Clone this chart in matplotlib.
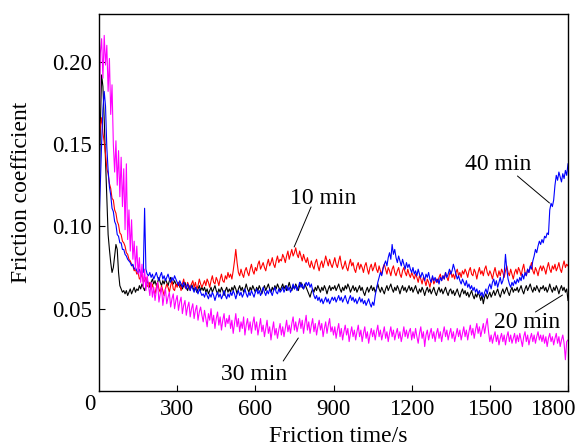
import numpy as np
import matplotlib
matplotlib.use("Agg")
import matplotlib.pyplot as plt
import matplotlib.transforms as mtransforms

# ---------------- data (5 s steps) ----------------
time_s = np.arange(0, 1801, 5)

mu_10min = [
    0.150, 0.161, 0.166, 0.157, 0.151, 0.144, 0.135, 0.132, 0.126, 0.123, 0.117, 0.116, 0.110, 0.108, 0.103, 0.101, 0.096, 0.095, 0.091, 0.090,
    0.088, 0.084, 0.083, 0.080, 0.079, 0.077, 0.076, 0.073, 0.074, 0.071, 0.072, 0.068, 0.069, 0.071, 0.066, 0.067, 0.069, 0.064, 0.063, 0.066,
    0.062, 0.065, 0.061, 0.059, 0.063, 0.066, 0.062, 0.060, 0.064, 0.061, 0.058, 0.062, 0.065, 0.063, 0.060, 0.064, 0.067, 0.062, 0.061, 0.065,
    0.063, 0.066, 0.064, 0.061, 0.065, 0.068, 0.063, 0.062, 0.066, 0.064, 0.061, 0.065, 0.067, 0.063, 0.066, 0.062, 0.064, 0.068, 0.065, 0.063,
    0.065, 0.067, 0.064, 0.068, 0.066, 0.063, 0.067, 0.070, 0.066, 0.065, 0.069, 0.067, 0.064, 0.068, 0.071, 0.067, 0.066, 0.070, 0.068, 0.072,
    0.069, 0.071, 0.068, 0.073, 0.079, 0.086, 0.078, 0.072, 0.070, 0.074, 0.071, 0.069, 0.073, 0.075, 0.072, 0.070, 0.074, 0.077, 0.073, 0.071,
    0.075, 0.073, 0.077, 0.079, 0.074, 0.076, 0.078, 0.075, 0.073, 0.077, 0.080, 0.076, 0.078, 0.081, 0.077, 0.075, 0.079, 0.082, 0.078, 0.080,
    0.079, 0.083, 0.081, 0.078, 0.082, 0.085, 0.080, 0.083, 0.086, 0.082, 0.084, 0.087, 0.083, 0.081, 0.085, 0.082, 0.079, 0.083, 0.080, 0.078,
    0.081, 0.077, 0.075, 0.079, 0.076, 0.074, 0.078, 0.080, 0.076, 0.073, 0.077, 0.079, 0.075, 0.078, 0.082, 0.079, 0.076, 0.080, 0.077, 0.075,
    0.078, 0.081, 0.077, 0.075, 0.079, 0.082, 0.077, 0.074, 0.076, 0.079, 0.075, 0.073, 0.077, 0.080, 0.076, 0.078, 0.074, 0.072, 0.076, 0.078,
    0.074, 0.077, 0.075, 0.072, 0.076, 0.078, 0.074, 0.071, 0.075, 0.077, 0.073, 0.075, 0.078, 0.074, 0.072, 0.076, 0.073, 0.071, 0.075, 0.077,
    0.074, 0.071, 0.075, 0.073, 0.070, 0.074, 0.076, 0.072, 0.070, 0.073, 0.075, 0.071, 0.069, 0.073, 0.075, 0.072, 0.070, 0.074, 0.071, 0.069,
    0.072, 0.070, 0.068, 0.071, 0.069, 0.066, 0.070, 0.068, 0.065, 0.069, 0.067, 0.064, 0.068, 0.066, 0.063, 0.067, 0.069, 0.065, 0.067, 0.068,
    0.066, 0.069, 0.071, 0.067, 0.070, 0.068, 0.072, 0.069, 0.067, 0.071, 0.073, 0.069, 0.071, 0.068, 0.072, 0.074, 0.070, 0.072, 0.069, 0.073,
    0.071, 0.074, 0.072, 0.069, 0.073, 0.075, 0.071, 0.070, 0.074, 0.072, 0.068, 0.072, 0.075, 0.071, 0.073, 0.070, 0.074, 0.076, 0.072, 0.070,
    0.073, 0.071, 0.068, 0.072, 0.075, 0.071, 0.069, 0.073, 0.070, 0.074, 0.072, 0.069, 0.073, 0.076, 0.072, 0.070, 0.074, 0.071, 0.068, 0.072,
    0.074, 0.071, 0.075, 0.073, 0.070, 0.074, 0.077, 0.072, 0.070, 0.074, 0.072, 0.075, 0.078, 0.073, 0.071, 0.075, 0.073, 0.070, 0.074, 0.076,
    0.073, 0.076, 0.074, 0.071, 0.075, 0.078, 0.074, 0.072, 0.076, 0.074, 0.077, 0.073, 0.075, 0.078, 0.074, 0.072, 0.076, 0.079, 0.075, 0.077,
    0.076,
]

mu_20min = [
    0.110, 0.160, 0.192, 0.185, 0.165, 0.140, 0.118, 0.095, 0.086, 0.078, 0.072, 0.075, 0.082, 0.089, 0.086, 0.072, 0.064, 0.062, 0.060, 0.061,
    0.059, 0.061, 0.058, 0.060, 0.062, 0.059, 0.061, 0.063, 0.060, 0.062, 0.061, 0.064, 0.062, 0.065, 0.063, 0.061, 0.064, 0.067, 0.065, 0.063,
    0.066, 0.068, 0.065, 0.067, 0.064, 0.066, 0.069, 0.066, 0.064, 0.067, 0.065, 0.068, 0.066, 0.064, 0.067, 0.069, 0.066, 0.065, 0.067, 0.065,
    0.064, 0.066, 0.063, 0.065, 0.062, 0.064, 0.066, 0.063, 0.061, 0.064, 0.062, 0.065, 0.063, 0.061, 0.063, 0.060, 0.062, 0.064, 0.061, 0.063,
    0.061, 0.063, 0.060, 0.062, 0.059, 0.061, 0.063, 0.060, 0.062, 0.064, 0.061, 0.059, 0.062, 0.060, 0.063, 0.061, 0.058, 0.061, 0.063, 0.060,
    0.062, 0.060, 0.063, 0.061, 0.064, 0.062, 0.059, 0.062, 0.064, 0.061, 0.063, 0.060, 0.062, 0.065, 0.062, 0.060, 0.063, 0.061, 0.064, 0.062,
    0.060, 0.063, 0.061, 0.064, 0.062, 0.059, 0.062, 0.064, 0.061, 0.063, 0.065, 0.062, 0.060, 0.063, 0.061, 0.064, 0.062, 0.065, 0.063, 0.061,
    0.063, 0.065, 0.062, 0.064, 0.061, 0.063, 0.066, 0.063, 0.061, 0.064, 0.062, 0.065, 0.063, 0.061, 0.064, 0.066, 0.063, 0.062, 0.065, 0.063,
    0.061, 0.059, 0.057, 0.060, 0.062, 0.060, 0.063, 0.061, 0.064, 0.062, 0.060, 0.063, 0.061, 0.064, 0.062, 0.059, 0.062, 0.064, 0.061, 0.063,
    0.062, 0.064, 0.061, 0.063, 0.065, 0.062, 0.060, 0.063, 0.061, 0.064, 0.062, 0.065, 0.063, 0.060, 0.062, 0.064, 0.061, 0.063, 0.060, 0.062,
    0.064, 0.061, 0.063, 0.060, 0.058, 0.061, 0.063, 0.060, 0.062, 0.064, 0.061, 0.063, 0.060, 0.062, 0.065, 0.062, 0.060, 0.063, 0.061, 0.059,
    0.062, 0.064, 0.061, 0.063, 0.065, 0.062, 0.060, 0.063, 0.061, 0.064, 0.062, 0.059, 0.062, 0.064, 0.061, 0.063, 0.060, 0.062, 0.064, 0.061,
    0.063, 0.060, 0.062, 0.064, 0.061, 0.059, 0.062, 0.060, 0.063, 0.061, 0.058, 0.061, 0.063, 0.060, 0.062, 0.059, 0.061, 0.063, 0.060, 0.058,
    0.061, 0.063, 0.060, 0.062, 0.059, 0.061, 0.063, 0.060, 0.058, 0.061, 0.062, 0.059, 0.061, 0.058, 0.060, 0.062, 0.059, 0.057, 0.060, 0.062,
    0.059, 0.061, 0.058, 0.060, 0.057, 0.059, 0.061, 0.058, 0.056, 0.059, 0.057, 0.060, 0.058, 0.055, 0.058, 0.053, 0.057, 0.059, 0.056, 0.058,
    0.060, 0.057, 0.059, 0.061, 0.058, 0.060, 0.062, 0.059, 0.057, 0.060, 0.062, 0.059, 0.061, 0.063, 0.060, 0.058, 0.061, 0.063, 0.060, 0.062,
    0.061, 0.063, 0.060, 0.062, 0.064, 0.061, 0.059, 0.062, 0.064, 0.061, 0.063, 0.065, 0.062, 0.060, 0.063, 0.061, 0.064, 0.062, 0.060, 0.063,
    0.062, 0.064, 0.061, 0.063, 0.060, 0.062, 0.065, 0.062, 0.060, 0.063, 0.061, 0.064, 0.062, 0.059, 0.062, 0.064, 0.061, 0.063, 0.060, 0.062,
    0.055,
]

mu_30min = [
    0.150, 0.205, 0.214, 0.190, 0.216, 0.198, 0.210, 0.182, 0.202, 0.168, 0.186, 0.150, 0.133, 0.152, 0.125, 0.146, 0.118, 0.142, 0.112, 0.135,
    0.098, 0.138, 0.092, 0.110, 0.085, 0.104, 0.080, 0.091, 0.074, 0.088, 0.071, 0.081, 0.066, 0.077, 0.063, 0.074, 0.061, 0.070, 0.064, 0.058,
    0.066, 0.057, 0.063, 0.055, 0.061, 0.066, 0.054, 0.059, 0.063, 0.052, 0.058, 0.062, 0.053, 0.057, 0.060, 0.051, 0.056, 0.059, 0.050, 0.055,
    0.058, 0.049, 0.054, 0.057, 0.047, 0.052, 0.055, 0.046, 0.051, 0.054, 0.045, 0.050, 0.053, 0.044, 0.049, 0.052, 0.043, 0.048, 0.051, 0.046,
    0.042, 0.049, 0.044, 0.039, 0.047, 0.043, 0.050, 0.041, 0.046, 0.038, 0.044, 0.048, 0.040, 0.045, 0.037, 0.043, 0.047, 0.039, 0.044, 0.041,
    0.046, 0.038, 0.043, 0.035, 0.041, 0.047, 0.039, 0.044, 0.036, 0.042, 0.038, 0.045, 0.034, 0.040, 0.044, 0.037, 0.042, 0.035, 0.041, 0.045,
    0.037, 0.042, 0.034, 0.039, 0.044, 0.036, 0.040, 0.033, 0.038, 0.043, 0.035, 0.039, 0.031, 0.037, 0.042, 0.034, 0.038, 0.032, 0.037, 0.041,
    0.034, 0.039, 0.033, 0.038, 0.043, 0.036, 0.040, 0.035, 0.041, 0.045, 0.037, 0.042, 0.036, 0.040, 0.044, 0.038, 0.043, 0.035, 0.041, 0.046,
    0.037, 0.042, 0.035, 0.040, 0.044, 0.036, 0.041, 0.034, 0.039, 0.043, 0.037, 0.041, 0.033, 0.038, 0.042, 0.035, 0.040, 0.044, 0.036, 0.039,
    0.034, 0.039, 0.032, 0.037, 0.041, 0.033, 0.038, 0.031, 0.036, 0.040, 0.034, 0.038, 0.030, 0.035, 0.039, 0.033, 0.037, 0.031, 0.036, 0.040,
    0.033, 0.037, 0.030, 0.035, 0.039, 0.032, 0.036, 0.029, 0.034, 0.038, 0.033, 0.037, 0.031, 0.036, 0.040, 0.033, 0.037, 0.031, 0.035, 0.039,
    0.032, 0.036, 0.030, 0.035, 0.039, 0.033, 0.037, 0.031, 0.035, 0.038, 0.032, 0.036, 0.030, 0.034, 0.039, 0.033, 0.037, 0.032, 0.036, 0.038,
    0.031, 0.036, 0.032, 0.038, 0.033, 0.029, 0.035, 0.039, 0.032, 0.036, 0.027, 0.034, 0.037, 0.031, 0.035, 0.038, 0.032, 0.036, 0.030, 0.035,
    0.038, 0.032, 0.036, 0.030, 0.035, 0.039, 0.033, 0.037, 0.031, 0.035, 0.038, 0.032, 0.036, 0.030, 0.034, 0.038, 0.033, 0.037, 0.031, 0.035,
    0.039, 0.033, 0.037, 0.031, 0.036, 0.040, 0.034, 0.038, 0.032, 0.037, 0.041, 0.035, 0.039, 0.033, 0.037, 0.041, 0.035, 0.040, 0.044, 0.036,
    0.030, 0.034, 0.029, 0.033, 0.036, 0.030, 0.034, 0.028, 0.032, 0.035, 0.030, 0.034, 0.028, 0.033, 0.036, 0.030, 0.034, 0.029, 0.032, 0.035,
    0.029, 0.034, 0.030, 0.035, 0.031, 0.027, 0.033, 0.036, 0.030, 0.034, 0.028, 0.032, 0.035, 0.030, 0.034, 0.029, 0.033, 0.036, 0.031, 0.034,
    0.030, 0.034, 0.029, 0.033, 0.027, 0.032, 0.035, 0.030, 0.033, 0.028, 0.032, 0.035, 0.029, 0.033, 0.027, 0.031, 0.034, 0.029, 0.019, 0.030,
    0.031,
]

mu_40min = [
    0.100, 0.126, 0.150, 0.171, 0.182, 0.173, 0.148, 0.134, 0.124, 0.119, 0.111, 0.109, 0.103, 0.101, 0.095, 0.094, 0.090, 0.090, 0.086, 0.086,
    0.083, 0.082, 0.080, 0.079, 0.078, 0.076, 0.077, 0.074, 0.075, 0.073, 0.072, 0.074, 0.071, 0.073, 0.072, 0.111, 0.074, 0.071, 0.070, 0.072,
    0.069, 0.071, 0.068, 0.070, 0.072, 0.069, 0.067, 0.070, 0.072, 0.068, 0.070, 0.067, 0.069, 0.071, 0.068, 0.066, 0.069, 0.067, 0.070, 0.068,
    0.066, 0.064, 0.067, 0.065, 0.063, 0.066, 0.064, 0.062, 0.065, 0.063, 0.061, 0.064, 0.062, 0.060, 0.063, 0.061, 0.059, 0.062, 0.060, 0.058,
    0.059, 0.057, 0.060, 0.058, 0.056, 0.059, 0.057, 0.060, 0.058, 0.055, 0.058, 0.060, 0.057, 0.059, 0.056, 0.058, 0.061, 0.058, 0.056, 0.059,
    0.057, 0.060, 0.058, 0.061, 0.059, 0.056, 0.059, 0.061, 0.058, 0.060, 0.057, 0.059, 0.062, 0.059, 0.057, 0.060, 0.058, 0.061, 0.059, 0.057,
    0.060, 0.062, 0.059, 0.061, 0.058, 0.060, 0.063, 0.060, 0.058, 0.061, 0.059, 0.062, 0.060, 0.058, 0.061, 0.063, 0.060, 0.059, 0.062, 0.060,
    0.061, 0.063, 0.060, 0.062, 0.064, 0.061, 0.063, 0.060, 0.062, 0.065, 0.062, 0.064, 0.061, 0.063, 0.066, 0.063, 0.065, 0.062, 0.064, 0.066,
    0.064, 0.066, 0.063, 0.065, 0.061, 0.058, 0.056, 0.058, 0.055, 0.057, 0.054, 0.056, 0.053, 0.055, 0.057, 0.054, 0.056, 0.053, 0.055, 0.057,
    0.055, 0.057, 0.054, 0.056, 0.058, 0.055, 0.057, 0.054, 0.056, 0.058, 0.055, 0.053, 0.056, 0.058, 0.055, 0.057, 0.054, 0.056, 0.053, 0.055,
    0.057, 0.054, 0.056, 0.053, 0.055, 0.052, 0.054, 0.056, 0.053, 0.051, 0.054, 0.052, 0.058, 0.062, 0.066, 0.069, 0.072, 0.070, 0.074, 0.077,
    0.079, 0.076, 0.081, 0.084, 0.080, 0.089, 0.083, 0.086, 0.081, 0.078, 0.082, 0.079, 0.076, 0.080, 0.077, 0.074, 0.078, 0.075, 0.077, 0.074,
    0.072, 0.075, 0.071, 0.073, 0.070, 0.074, 0.071, 0.069, 0.072, 0.070, 0.067, 0.071, 0.069, 0.072, 0.068, 0.066, 0.070, 0.067, 0.069, 0.066,
    0.068, 0.065, 0.069, 0.067, 0.070, 0.068, 0.072, 0.069, 0.071, 0.074, 0.071, 0.073, 0.077, 0.074, 0.071, 0.068, 0.070, 0.067, 0.065, 0.068,
    0.066, 0.064, 0.067, 0.063, 0.065, 0.062, 0.064, 0.061, 0.063, 0.060, 0.062, 0.059, 0.061, 0.058, 0.060, 0.057, 0.060, 0.062, 0.059, 0.063,
    0.065, 0.062, 0.066, 0.068, 0.064, 0.067, 0.063, 0.066, 0.069, 0.065, 0.067, 0.071, 0.083, 0.074, 0.068, 0.065, 0.063, 0.066, 0.064, 0.067,
    0.065, 0.068, 0.066, 0.069, 0.067, 0.071, 0.068, 0.072, 0.070, 0.074, 0.072, 0.076, 0.074, 0.079, 0.082, 0.086, 0.084, 0.088, 0.091, 0.089,
    0.092, 0.090, 0.094, 0.093, 0.096, 0.095, 0.110, 0.114, 0.112, 0.116, 0.125, 0.131, 0.128, 0.133, 0.130, 0.127, 0.132, 0.129, 0.134, 0.131,
    0.138,
]

series_names = ["20 min", "10 min", "40 min", "30 min"]
series_colors = ["#000000", "#ff0000", "#0000ff", "#ff00ff"]

x_ticks = [0, 300, 600, 900, 1200, 1500, 1800]
y_ticks = [0.05, 0.10, 0.15, 0.20]
y_tick_labels = ["0.05", "0.10", "0.15", "0.20"]

# annotation: label, text position (t, mu), leader start (t, mu), leader tip (t, mu)
annotations = [
    ("10 min", (861, 0.1135), (814, 0.1118), (749, 0.0875)),
    ("40 min", (1531, 0.1342), (1606, 0.1306), (1729, 0.1142)),
    ("20 min", (1642, 0.0383), (1675, 0.0480), (1779, 0.0583)),
    ("30 min", (597, 0.0067), (707, 0.0182), (765, 0.0322)),
]

# ---------------- figure ----------------
plt.rcParams["font.family"] = ["Liberation Serif", "DejaVu Serif"]

fig = plt.figure(figsize=(5.85, 4.48), dpi=100)
ax = fig.add_axes([99 / 585, 1 - 391 / 448, (568 - 99) / 585, (391 - 14) / 448])

series = {"10 min": mu_10min, "20 min": mu_20min, "30 min": mu_30min, "40 min": mu_40min}
for name, color in zip(series_names, series_colors):
    ax.plot(time_s, series[name], color=color, lw=0.8)

ax.set_xlim(0, 1800)
ax.set_ylim(0, 0.229)
ax.set_xticks(x_ticks)
ax.set_xticklabels([str(v) for v in x_ticks])
ax.set_yticks(y_ticks)
ax.set_yticklabels(y_tick_labels)
ax.tick_params(direction="in", length=4, width=0.8, labelsize=16.5,
               top=False, right=False, colors="black")
ax.tick_params(axis="x", pad=6)
ax.tick_params(axis="y", pad=5)
for sp in ax.spines.values():
    sp.set_linewidth(1.0)
    sp.set_color("black")

# nudge the "0" and "1800" labels like the reference
xlabels = ax.get_xticklabels()
xlabels[0].set_transform(xlabels[0].get_transform() +
                         mtransforms.ScaledTranslation(-9 / 100, 5 / 100, fig.dpi_scale_trans))
xlabels[-1].set_transform(xlabels[-1].get_transform() +
                          mtransforms.ScaledTranslation(-15 / 100, 0, fig.dpi_scale_trans))
ax.xaxis.get_major_ticks()[0].tick1line.set_visible(False)

fig.text(22 / 585, 1 - 192 / 448, "Friction coefficient", rotation=90,
         ha="center", va="center", fontsize=17)
fig.text(338 / 585, 1 - 442 / 448, "Friction time/s", ha="center",
         va="baseline", fontsize=17)

for label, txt, start, tip in annotations:
    ax.text(txt[0], txt[1], label, ha="center", va="baseline", fontsize=17)
    ax.annotate("", xy=tip, xytext=start,
                arrowprops=dict(arrowstyle="-", lw=0.7, color="black",
                                shrinkA=0, shrinkB=0))

fig.savefig("out.png", dpi=100)
